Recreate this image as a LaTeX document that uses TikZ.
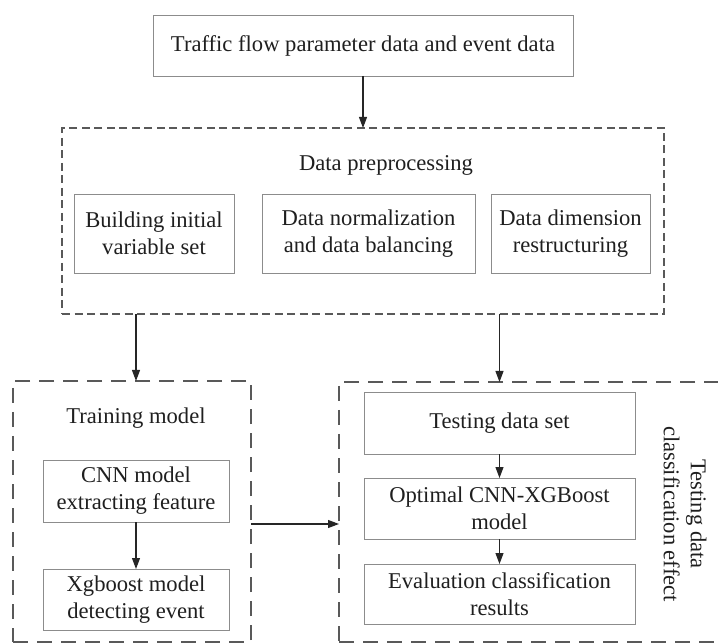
\documentclass[tikz,border=0pt]{standalone}
\usepackage{fontspec}
\setmainfont{Liberation Serif}
\usetikzlibrary{arrows.meta}
\begin{document}
\begin{tikzpicture}[x=1pt,y=-1pt,
  every node/.style={font=\fontsize{22.6pt}{27pt}\selectfont, text=black!88, inner sep=0pt, outer sep=0pt},
  solidbox/.style={draw=black!45, line width=0.9pt, align=center, anchor=north west},
  groupbox/.style={draw=black!65, line width=1.4pt, dash pattern=on 8pt off 4.5pt},
  bigbox/.style={draw=black!65, line width=1.4pt, dash pattern=on 15pt off 9pt},
  arr/.style={-{Triangle[length=11pt,width=8pt]}, line width=1.1pt, draw=black!85}]
\clip (0,0) rectangle (718,644);

% input data
\node[solidbox, minimum width=420pt, minimum height=61pt] (src) at (153,15)
  {Traffic flow parameter data and event data};

% preprocessing stage
\node[groupbox, anchor=north west, minimum width=602pt, minimum height=186pt] (pre) at (62,128) {};
\node (prelbl) at (386,165) {Data preprocessing};
\node[solidbox, minimum width=160pt, minimum height=79pt] (b1) at (74,194)
  {Building initial\\variable set};
\node[solidbox, minimum width=213pt, minimum height=79pt] (b2) at (262,194)
  {Data normalization\\and data balancing};
\node[solidbox, minimum width=159pt, minimum height=79pt] (b3) at (491,194)
  {Data dimension\\restructuring};

% training branch
\node[bigbox, anchor=north west, minimum width=238pt, minimum height=261pt] (train) at (13,381) {};
\node (trlbl) at (136,418) {Training model};
\node[solidbox, minimum width=186pt, minimum height=62pt] (cnn) at (43,460)
  {CNN model\\extracting feature};
\node[solidbox, minimum width=186pt, minimum height=61pt] (xgb) at (43,569)
  {Xgboost model\\detecting event};

% testing branch (runs off the right edge)
\node[bigbox, anchor=north west, minimum width=420pt, minimum height=260pt] (test) at (339,382) {};
\node[solidbox, minimum width=271pt, minimum height=62pt] (tds) at (364,392)
  {Testing data set};
\node[solidbox, minimum width=271pt, minimum height=61pt] (opt) at (364,478)
  {Optimal CNN-XGBoost\\model};
\node[solidbox, minimum width=271pt, minimum height=60pt] (eval) at (364,564)
  {Evaluation classification\\results};
\node[rotate=-90, align=center] (testlbl) at (685,514)
  {Testing data\\classification effect};

\coordinate (link) at (300,524);

% connectors
\draw[arr] (src.south) -- (pre.north -| src.south);
\draw[arr] (pre.south -| cnn.north) -- (train.north -| cnn.north);
\draw[arr] (pre.south -| tds.north) -- (test.north -| tds.north);
\draw[arr] (cnn.south) -- (xgb.north);
\draw[arr] (tds.south) -- (opt.north);
\draw[arr] (opt.south) -- (eval.north);
\draw[arr] (train.east |- link) -- (test.west |- link);
\end{tikzpicture}
\end{document}
